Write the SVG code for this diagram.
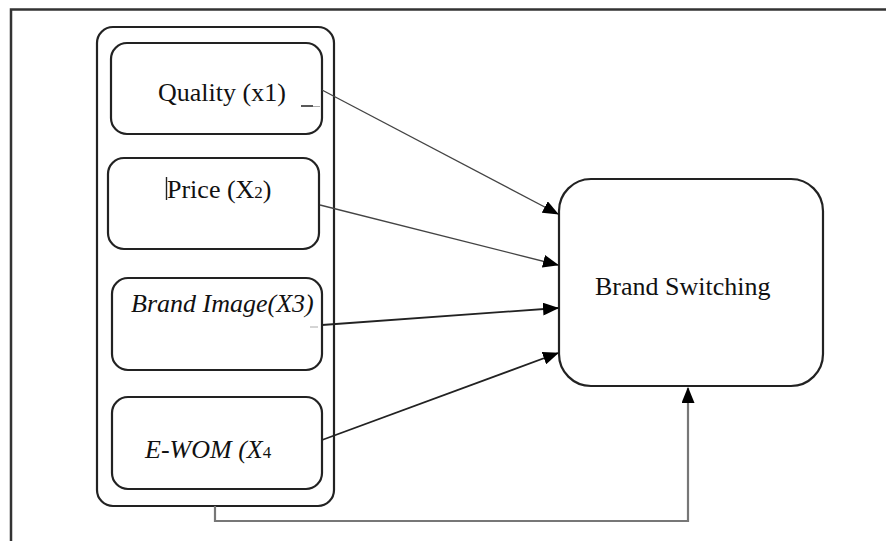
<svg xmlns="http://www.w3.org/2000/svg" width="886" height="541" viewBox="0 0 886 541">
  <defs>
    <marker id="arrow" viewBox="0 0 16 13" refX="15" refY="6.5" markerWidth="16" markerHeight="13" markerUnits="userSpaceOnUse" orient="auto">
      <path d="M0,0 L16,6.5 L0,13 Z" fill="#000"/>
    </marker>
    <style>
      .box { fill: #fff; stroke: #222; stroke-width: 2.2; }
      .label { font-family: "Liberation Serif", "Times New Roman", serif; font-size: 26px; fill: #111; }
      .ital { font-style: italic; }
      .edge { fill: none; stroke: #444; stroke-width: 1.3; }
      .edge2 { fill: none; stroke: #222; stroke-width: 1.8; }
      .frame { stroke: #333; stroke-width: 2.5; fill: none; }
    </style>
  </defs>
  <rect width="886" height="541" fill="#fff"/>

  <!-- page frame -->
  <path class="frame" d="M11,541 V9.5 H886"/>

  <!-- grouping box for the independent variables -->
  <g id="variables">
    <rect class="box" x="97" y="27" width="237" height="479" rx="16"/>
  </g>

  <g id="quality">
    <rect class="box" x="111" y="43" width="211" height="91" rx="16"/>
    <text class="label" x="158" y="101">Quality (x1)</text>
    <path d="M301,106 H313" stroke="#222" stroke-width="1.5"/>
    <path d="M313,106.5 H320" stroke="#aaa" stroke-width="1"/>
  </g>

  <g id="price">
    <rect class="box" x="108" y="158" width="211" height="91" rx="16"/>
    <path d="M166.5,177 V200" stroke="#222" stroke-width="1.4"/>
    <text class="label" x="167" y="198">Price (X<tspan font-size="17">2</tspan>)</text>
  </g>

  <g id="brand-image">
    <rect class="box" x="112" y="278" width="210" height="92" rx="16"/>
    <text class="label ital" x="131" y="312">Brand Image(X3)</text>
    <path d="M310,327 H318" stroke="#aaa" stroke-width="1"/>
  </g>

  <g id="ewom">
    <rect class="box" x="112" y="397" width="210" height="92" rx="16"/>
    <text class="label ital" x="145" y="458">E-WOM (X<tspan font-style="normal" font-size="17">4</tspan></text>
  </g>

  <g id="brand-switching">
    <rect class="box" x="559" y="179" width="264" height="207" rx="32"/>
    <text class="label" x="595" y="295">Brand Switching</text>
  </g>

  <g id="connectors">
    <line class="edge" x1="322" y1="90" x2="558" y2="214" marker-end="url(#arrow)"/>
    <line class="edge" x1="320" y1="205" x2="558" y2="265" marker-end="url(#arrow)"/>
    <line class="edge2" x1="322" y1="325" x2="558" y2="308" marker-end="url(#arrow)"/>
    <line class="edge2" x1="322" y1="440" x2="558" y2="353" marker-end="url(#arrow)"/>
    <path d="M215,506 V521 H688 V388" fill="none" stroke="#777" stroke-width="2.2" marker-end="url(#arrow)"/>
  </g>
</svg>
